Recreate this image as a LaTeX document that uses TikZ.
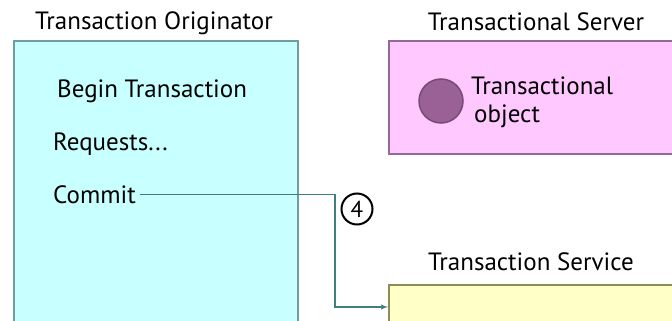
\documentclass[tikz,border=0pt]{standalone}
\usepackage{fontspec}
\setmainfont{PT Sans}
\usetikzlibrary{arrows}
\definecolor{origfill}{HTML}{C8FFFF}
\definecolor{origline}{HTML}{6E9E9E}
\definecolor{servfill}{HTML}{FFC8FF}
\definecolor{servline}{HTML}{946A94}
\definecolor{objfill}{HTML}{9A6196}
\definecolor{objline}{HTML}{7A4A76}
\definecolor{svcfill}{HTML}{FFFFC8}
\definecolor{svcline}{HTML}{8C8C58}
\definecolor{msgcol}{HTML}{3F7F7F}
\tikzset{
    box/.style={rectangle,draw,line width=1.8pt,inner sep=0pt},
    title/.style={anchor=base,font=\fontsize{25}{30}\selectfont},
    item/.style={anchor=base west,inner sep=0pt,font=\fontsize{25}{30}\selectfont},
    obj/.style={circle,draw=objline,fill=objfill,line width=1.5pt,minimum size=44pt,inner sep=0pt},
    step4/.style={circle,draw=black,line width=2pt,minimum size=31pt,inner sep=0pt,font=\fontsize{23}{26}\selectfont},
    msg/.style={->,> = latex',draw=msgcol,line width=1.5pt},
}
\begin{document}
\begin{tikzpicture}[x=1pt,y=-1pt]
    \useasboundingbox (0,0) rectangle (672,321);
    \clip (0,0) rectangle (672,321);
    \node[box,draw=origline,fill=origfill,minimum width=284pt,minimum height=299pt] (orig) at (156,190.5) {};
    \node[box,draw=servline,fill=servfill,minimum width=311pt,minimum height=113pt] (server) at (544.5,97.5) {};
    \node[box,draw=svcline,fill=svcfill,minimum width=311pt,minimum height=44pt] (service) at (544.5,307) {};
    \node[title] (origtitle) at (154,30) {Transaction Originator};
    \node[title] (servtitle) at (536,31) {Transactional Server};
    \node[title] (svctitle) at (531,270) {Transaction Service};
    \node[item] (begin) at (57,97) {Begin Transaction};
    \node[item] (req) at (53,150) {Requests...};
    \node[item] (commit) at (53,203) {Commit};
    \node[obj] (tobj) at (441,101) {};
    \node[item] (tobjtxt1) at (471,94) {Transactional};
    \node[item] (tobjtxt2) at (474,122) {object};
    \node[step4] (four) at (357,209) {4};
    \coordinate (drop) at (335,250);
    \draw[msg] ([xshift=4pt]commit.east) -| (drop) |- (service.west);
\end{tikzpicture}
\end{document}
